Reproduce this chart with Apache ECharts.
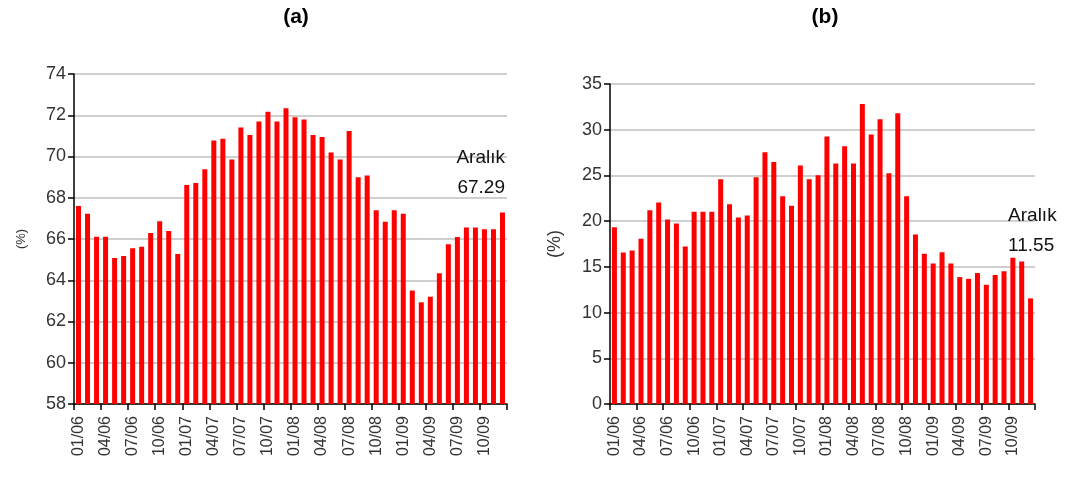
<!DOCTYPE html>
<html>
<head>
<meta charset="utf-8">
<script src="https://cdn.jsdelivr.net/npm/echarts@6/dist/echarts.min.js"></script>
<style>
  html, body { margin: 0; padding: 0; background: #fff; }
  #chart { width: 1066px; height: 479px; }
</style>
</head>
<body>
<div id="chart"></div>
<script>
// Month categories 01/06 .. 12/09
const years = ['06', '07', '08', '09'];
const months = [];
years.forEach(function (y) {
  for (let m = 1; m <= 12; m++) months.push((m < 10 ? '0' + m : '' + m) + '/' + y);
});

// Panel (a) values (%)
const seriesA = [
  67.6, 67.23, 66.11, 66.11, 65.08, 65.18, 65.55, 65.63, 66.29, 66.86, 66.39, 65.27,
  68.62, 68.72, 69.38, 70.78, 70.86, 69.85, 71.41, 71.04, 71.7, 72.17, 71.7, 72.34,
  71.9, 71.8, 71.04, 70.95, 70.2, 69.85, 71.24, 68.99, 69.08, 67.4, 66.84, 67.4,
  67.23, 63.5, 62.93, 63.2, 64.34, 65.74, 66.1, 66.56, 66.56, 66.47, 66.47, 67.29
];
// Panel (b) values (%)
const seriesB = [
  19.34, 16.57, 16.79, 18.07, 21.2, 22.03, 20.18, 19.74, 17.23, 21.02, 21.02, 21.02,
  24.59, 21.86, 20.4, 20.62, 24.8, 27.54, 26.48, 22.73, 21.67, 26.08, 24.59, 25.03,
  29.25, 26.3, 28.2, 26.3, 32.82, 29.47, 31.15, 25.25, 31.8, 22.73, 18.54, 16.43,
  15.37, 16.61, 15.37, 13.88, 13.69, 14.32, 13.04, 14.1, 14.53, 15.99, 15.59, 11.55
];
const yTicksA = { min: 58, max: 74, interval: 2 };
const yTicksB = { min: 0, max: 35, interval: 5 };
const titles = ['(a)', '(b)'];
const noteLabel = 'Aralık';

const FONT = "'Liberation Sans Narrow', 'Arial Narrow', 'Liberation Sans', Arial, sans-serif";

function xAxisCfg(gridIndex) {
  return {
    type: 'category', gridIndex: gridIndex, data: months, boundaryGap: true,
    axisLine: { lineStyle: { color: '#000', width: 1.5 } },
    axisTick: { show: true, interval: 2, length: 6, lineStyle: { color: '#000', width: 1.5 } },
    axisLabel: { interval: 2, rotate: 90, color: '#333', fontFamily: FONT, fontSize: 16, margin: 12 }
  };
}
function yAxisCfg(gridIndex, t, nameSize, nameGap) {
  return {
    type: 'value', gridIndex: gridIndex, min: t.min, max: t.max, interval: t.interval,
    name: '(%)', nameLocation: 'middle', nameGap: nameGap,
    nameTextStyle: { color: '#333', fontFamily: FONT, fontSize: nameSize },
    axisLine: { show: true, lineStyle: { color: '#000', width: 1.5 } },
    axisTick: { show: true, length: 6, lineStyle: { color: '#000', width: 1.5 } },
    axisLabel: { color: '#333', fontFamily: FONT, fontSize: 18, margin: 8 },
    splitLine: { show: true, lineStyle: { color: '#cfcfcf', width: 2 } }
  };
}

const chart = echarts.init(document.getElementById('chart'), null, { renderer: 'canvas' });

function lastLabel(vals, pos, align) {
  return vals.map(function (v, i) {
    if (i !== vals.length - 1) return v;
    return {
      value: v,
      label: {
        show: true, position: pos, align: align, verticalAlign: 'bottom',
        formatter: noteLabel + '\n' + v.toFixed(2),
        color: '#111', fontFamily: FONT, fontSize: 19, lineHeight: 30
      }
    };
  });
}

chart.setOption({
  animation: false,
  backgroundColor: '#fff',
  title: [
    { text: titles[0], left: 291, top: 2, textAlign: 'center',
      textStyle: { fontFamily: FONT, fontWeight: 'bold', fontSize: 21, color: '#000' } },
    { text: titles[1], left: 820, top: 2, textAlign: 'center',
      textStyle: { fontFamily: FONT, fontWeight: 'bold', fontSize: 21, color: '#000' } }
  ],
  grid: [
    { left: 74, top: 74, width: 433, height: 330 },
    { left: 610, top: 84, width: 425, height: 320 }
  ],
  xAxis: [xAxisCfg(0), xAxisCfg(1)],
  yAxis: [yAxisCfg(0, yTicksA, 13, 46), yAxisCfg(1, yTicksB, 18, 46)],
  series: [
    { type: 'bar', xAxisIndex: 0, yAxisIndex: 0, data: lastLabel(seriesA, ['100%', -10], 'right'),
      barWidth: 5, itemStyle: { color: '#ff0000' } },
    { type: 'bar', xAxisIndex: 1, yAxisIndex: 1, data: lastLabel(seriesB, [-20, -38], 'left'),
      barWidth: 5, itemStyle: { color: '#ff0000' } }
  ]
});
</script>
</body>
</html>
